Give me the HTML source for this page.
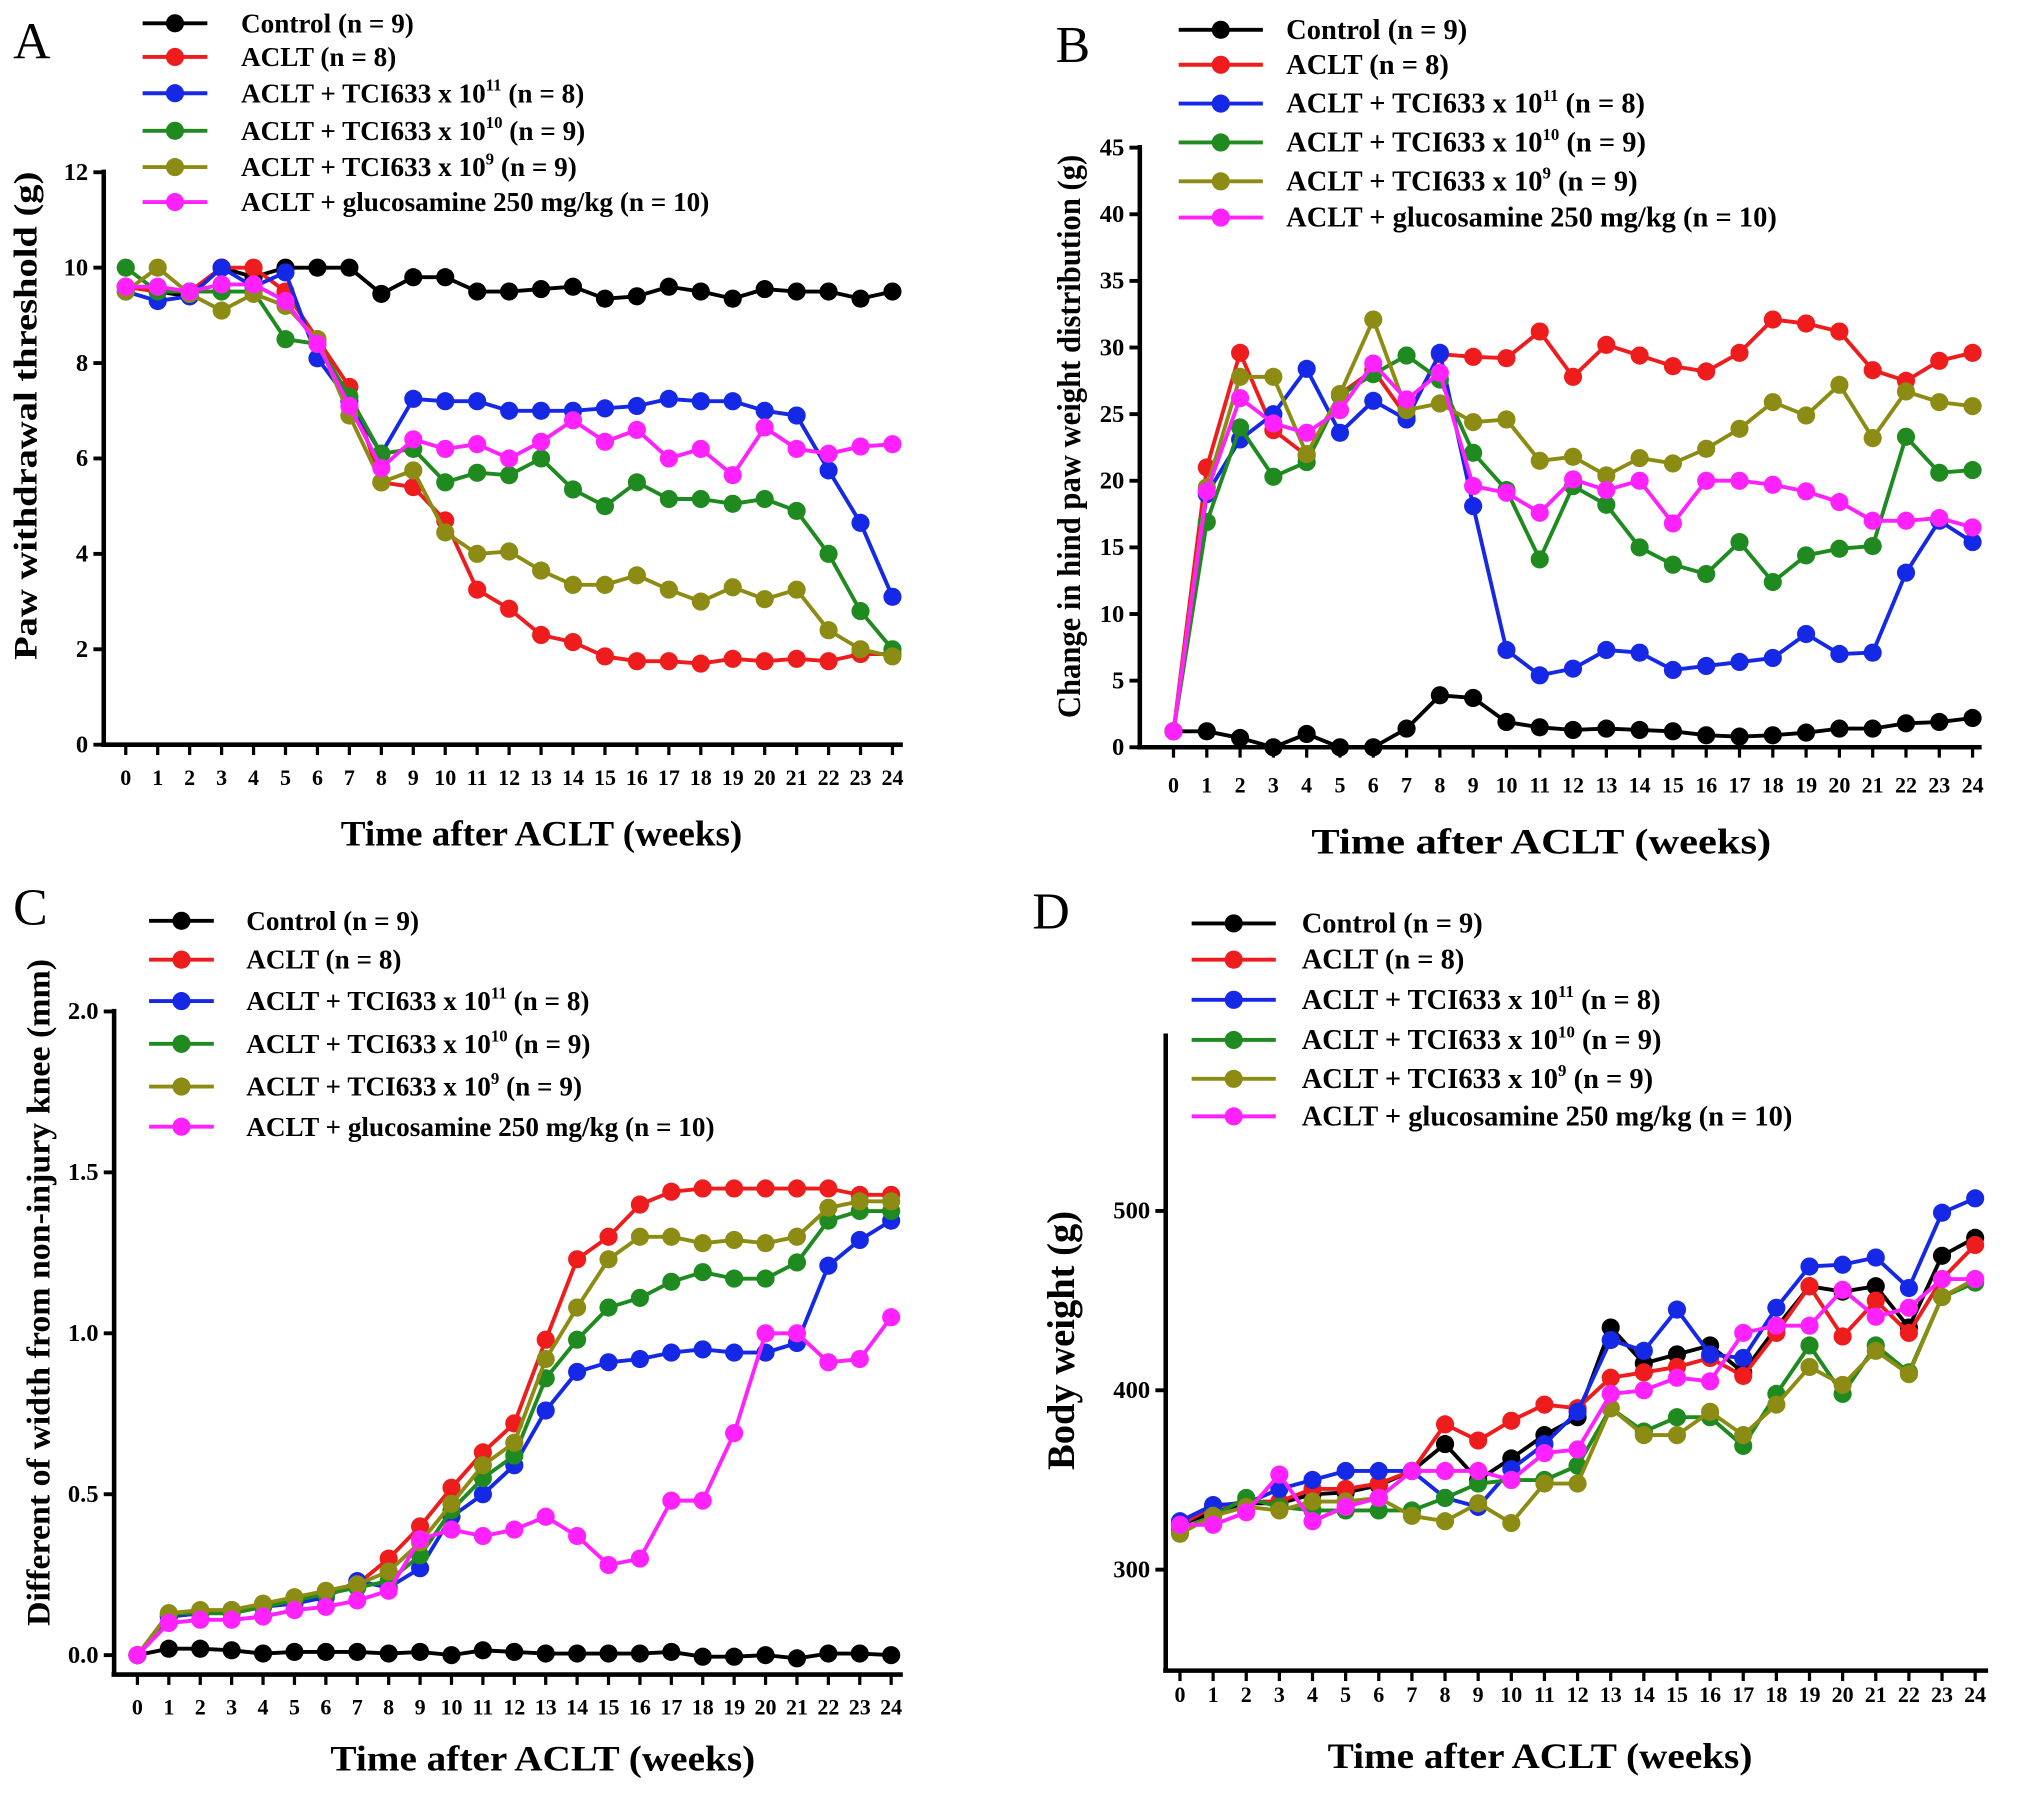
<!DOCTYPE html>
<html><head><meta charset="utf-8">
<style>
html,body{margin:0;padding:0;background:#fff;}
svg{display:block;font-family:"Liberation Serif",serif;}
</style></head>
<body>
<svg id="fig" width="2031" height="1795" viewBox="0 0 1568 1386" xmlns="http://www.w3.org/2000/svg"></svg>
<script>
const weeks = [0,1,2,3,4,5,6,7,8,9,10,11,12,13,14,15,16,17,18,19,20,21,22,23,24];
const seriesColors = ["#000000","#ee1c1c","#1428e6","#1f8a1f","#8c8c14","#ff22ff"];
const seriesNames = ["control","aclt","tci-1e11","tci-1e10","tci-1e9","glucosamine"];

// Panel A: paw withdrawal threshold (g)
const aControl = [9.6,9.5,9.4,10,9.8,10,10,10,9.45,9.8,9.8,9.5,9.5,9.55,9.6,9.35,9.4,9.6,9.5,9.35,9.55,9.5,9.5,9.35,9.5];
const aAclt = [9.6,9.5,9.5,10,10,9.5,8.5,7.5,5.5,5.4,4.7,3.25,2.85,2.3,2.15,1.85,1.75,1.75,1.7,1.8,1.75,1.8,1.75,1.9,1.9];
const aTci11 = [9.5,9.3,9.4,10,9.6,9.9,8.1,7.2,6.1,7.25,7.2,7.2,7.0,7.0,7.0,7.05,7.1,7.25,7.2,7.2,7.0,6.9,5.75,4.65,3.1];
const aTci10 = [10,9.5,9.5,9.5,9.5,8.5,8.4,7.3,6.1,6.2,5.5,5.7,5.65,6.0,5.35,5.0,5.5,5.15,5.15,5.05,5.15,4.9,4.0,2.8,2.0];
const aTci9 = [9.5,10,9.45,9.1,9.45,9.2,8.5,6.9,5.5,5.75,4.45,4.0,4.05,3.65,3.35,3.35,3.55,3.25,3.0,3.3,3.05,3.25,2.4,2.0,1.85];
const aGluc = [9.6,9.6,9.5,9.65,9.65,9.3,8.4,7.1,5.8,6.4,6.2,6.3,6.0,6.35,6.8,6.35,6.6,6.0,6.2,5.65,6.65,6.2,6.1,6.25,6.3];
const aTicks = [0,2,4,6,8,10,12];

// Panel B: change in hind paw weight distribution (g)
const bControl = [1.2,1.2,0.7,0,1.0,0,0,1.4,3.9,3.7,1.9,1.5,1.3,1.4,1.3,1.2,0.9,0.8,0.9,1.1,1.4,1.4,1.8,1.9,2.2];
const bAclt = [1.2,21,29.6,23.8,21.9,26.5,28.3,24.8,29.5,29.3,29.2,31.2,27.8,30.2,29.4,28.6,28.2,29.6,32.1,31.8,31.2,28.3,27.5,29,29.6];
const bTci11 = [1.2,19,23.1,25,28.4,23.6,26,24.6,29.6,18.1,7.3,5.4,5.9,7.3,7.1,5.8,6.1,6.4,6.7,8.5,7.0,7.1,13.1,17,15.4];
const bTci10 = [1.2,16.9,24,20.3,21.4,26.4,28,29.4,27.6,22.1,19.3,14.1,19.6,18.2,15,13.7,13,15.4,12.4,14.4,14.9,15.1,23.3,20.6,20.8];
const bTci9 = [1.2,19.5,27.8,27.8,22,26.5,32.1,25.3,25.8,24.4,24.6,21.5,21.8,20.4,21.7,21.3,22.4,23.9,25.9,24.9,27.2,23.2,26.7,25.9,25.6];
const bGluc = [1.2,19.2,26.2,24.3,23.6,25.3,28.8,26.1,28.1,19.6,19.1,17.6,20.1,19.3,20.0,16.8,20,20,19.7,19.2,18.4,17.0,17.0,17.2,16.5];
const bTicks = [0,5,10,15,20,25,30,35,40,45];

// Panel C: width difference (mm)
const cControl = [0,0.02,0.02,0.015,0.005,0.01,0.01,0.01,0.005,0.01,0,0.015,0.01,0.005,0.005,0.005,0.005,0.01,-0.005,-0.005,0,-0.01,0.005,0.005,0];
const cAclt = [0,0.12,0.13,0.14,0.15,0.17,0.19,0.22,0.3,0.4,0.52,0.63,0.72,0.98,1.23,1.3,1.4,1.44,1.45,1.45,1.45,1.45,1.45,1.43,1.43];
const cTci11 = [0,0.12,0.13,0.14,0.15,0.16,0.18,0.23,0.21,0.27,0.43,0.5,0.59,0.76,0.88,0.91,0.92,0.94,0.95,0.94,0.94,0.97,1.21,1.29,1.35];
const cTci10 = [0,0.13,0.13,0.13,0.15,0.17,0.19,0.21,0.23,0.31,0.45,0.55,0.62,0.86,0.98,1.08,1.11,1.16,1.19,1.17,1.17,1.22,1.35,1.38,1.38];
const cTci9 = [0,0.13,0.14,0.14,0.16,0.18,0.2,0.22,0.26,0.35,0.47,0.59,0.66,0.92,1.08,1.23,1.3,1.3,1.28,1.29,1.28,1.3,1.39,1.41,1.41];
const cGluc = [0,0.1,0.11,0.11,0.12,0.14,0.15,0.17,0.2,0.36,0.39,0.37,0.39,0.43,0.37,0.28,0.3,0.48,0.48,0.69,1.0,1.0,0.91,0.92,1.05];
const cTicks = [0,0.5,1.0,1.5,2.0];
const cTickLabels = ["0.0","0.5","1.0","1.5","2.0"];

// Panel D: body weight (g)
const dControl = [325,332,337,337,342,343,347,355,370,350,362,375,385,435,415,420,425,410,435,458,455,458,435,475,485];
const dAclt = [325,335,338,338,345,345,348,355,381,372,383,392,390,407,410,413,418,408,432,458,430,450,432,462,481];
const dTci11 = [327,336,337,345,350,355,355,355,340,335,356,370,388,428,422,445,420,418,446,469,470,474,457,499,507];
const dTci10 = [322,330,340,335,333,333,333,333,340,348,350,350,358,390,377,385,385,369,398,425,398,425,410,452,460];
const dTci9 = [320,330,335,333,338,338,340,330,327,337,326,348,348,390,375,375,388,375,392,413,403,422,409,452,462];
const dGluc = [325,325,332,353,327,335,340,355,355,355,350,365,367,398,400,407,405,432,436,436,456,441,446,462,462];
const dTicks = [300,400,500];

const NS="http://www.w3.org/2000/svg";
const svg=document.getElementById('fig');
function el(tag,attrs,parent){const e=document.createElementNS(NS,tag);for(const k in attrs)e.setAttribute(k,attrs[k]);(parent||svg).appendChild(e);return e;}

const legendLabels=[
 ["Control  (n = 9)"],["ACLT (n = 8)"],
 ["ACLT + TCI633 x 10","11"," (n = 8)"],["ACLT + TCI633 x 10","10"," (n = 9)"],
 ["ACLT + TCI633 x 10","9"," (n = 9)"],["ACLT + glucosamine 250 mg/kg (n = 10)"]];

const panels=[
 {id:"a",letter:"A",lx:10,ly:45,series:[aControl,aAclt,aTci11,aTci10,aTci9,aGluc],ticks:aTicks,tickLabels:aTicks.map(String),
  x0:97,x24:689,vmin:0,py0:575,vmax:12,py1:133,axisX:80,axisTop:133,axisBottom:575,axisRight:697,tickLabelY:606,
  ylabel:"Paw withdrawal threshold (g)",ylx:28,yly:321,ylen:377,xtitleX:418,xtitleY:653,xlen:310,
  legX:110,legLine:50,legTextX:186,legRows:[18,44,72,101,129,156],legFont:21},
 {id:"b",letter:"B",lx:815,ly:48,series:[bControl,bAclt,bTci11,bTci10,bTci9,bGluc],ticks:bTicks,tickLabels:bTicks.map(String),
  x0:906,x24:1523,vmin:0,py0:577,vmax:45,py1:114,axisX:880,axisTop:114,axisBottom:577,axisRight:1530,tickLabelY:612,
  ylabel:"Change in hind paw weight distribution (g)",ylx:834,yly:337,ylen:435,xtitleX:1190,xtitleY:659,xlen:355,
  legX:910,legLine:65,legTextX:993,legRows:[23,50,80,110,140,168],legFont:22},
 {id:"c",letter:"C",lx:10,ly:714,series:[cControl,cAclt,cTci11,cTci10,cTci9,cGluc],ticks:cTicks,tickLabels:cTickLabels,
  x0:106,x24:688,vmin:0,py0:1278,vmax:2,py1:781,axisX:88,axisTop:781,axisBottom:1293,axisRight:697,tickLabelY:1324,
  ylabel:"Different of width from non-injury knee (mm)",ylx:38,yly:998,ylen:515,xtitleX:419,xtitleY:1367,xlen:328,
  legX:115,legLine:50,legTextX:190,legRows:[711,741,773,806,839,870],legFont:21},
 {id:"d",letter:"D",lx:797,ly:717,series:[dControl,dAclt,dTci11,dTci10,dTci9,dGluc],ticks:dTicks,tickLabels:dTicks.map(String),
  x0:911,x24:1525,vmin:300,py0:1212,vmax:500,py1:935,axisX:900,axisTop:800,axisBottom:1290,axisRight:1535,tickLabelY:1314,
  ylabel:"Body weight (g)",ylx:829,yly:1035,ylen:200,xtitleX:1189,xtitleY:1365,xlen:328,
  legX:920,legLine:65,legTextX:1005,legRows:[713,741,772,803,833,862],legFont:22}
];

panels.forEach(p=>{
  const g=el('g',{});
  
  
  const xs=w=>p.x0+(p.x24-p.x0)*w/24;
  const ys=v=>p.py0+(p.py1-p.py0)*(v-p.vmin)/(p.vmax-p.vmin);
  const L=el('text',{x:p.lx,y:p.ly,'font-size':40},g);L.textContent=p.letter;
  
  
  const ya=el('line',{x1:p.axisX,y1:p.axisTop-2,x2:p.axisX,y2:p.axisBottom,stroke:'#000','stroke-width':3.5},g);
  
  
  const xa=el('line',{x1:p.axisX-2,y1:p.axisBottom,x2:p.axisRight,y2:p.axisBottom,stroke:'#000','stroke-width':3.5},g);
  
  
  p.ticks.forEach((t,i)=>{
    const y=ys(t);
    el('line',{x1:p.axisX-8,y1:y,x2:p.axisX,y2:y,stroke:'#000','stroke-width':3},g);
    const tx=el('text',{x:p.axisX-12,y:y+6,'font-size':19,'font-weight':'bold','text-anchor':'end'},g);
    tx.textContent=p.tickLabels[i];
    
    
  });
  weeks.forEach(w=>{
    const x=xs(w);
    el('line',{x1:x,y1:p.axisBottom,x2:x,y2:p.axisBottom+8,stroke:'#000','stroke-width':2.5},g);
    const tx=el('text',{x:x,y:p.tickLabelY,'font-size':17,'font-weight':'bold','text-anchor':'middle'},g);
    tx.textContent=String(w);
    
    
  });
  const xt=el('text',{x:p.xtitleX,y:p.xtitleY,'font-size':28,'font-weight':'bold','text-anchor':'middle',textLength:p.xlen,lengthAdjust:'spacingAndGlyphs'},g);
  xt.textContent="Time after ACLT (weeks)";
  
  
  const yt=el('text',{x:p.ylx,y:p.yly,'font-size':p.id==='d'?30:25,'font-weight':'bold','text-anchor':'middle',textLength:p.ylen,lengthAdjust:'spacingAndGlyphs',transform:`rotate(-90 ${p.ylx} ${p.yly})`},g);
  yt.textContent=p.ylabel;
  
  
  p.series.forEach((vals,si)=>{
    const sg=el('g',{},g);
    
    
    const pts=vals.map((v,i)=>xs(weeks[i]).toFixed(1)+','+ys(v).toFixed(1)).join(' ');
    const pl=el('polyline',{points:pts,fill:'none',stroke:seriesColors[si],'stroke-width':3,'stroke-linejoin':'round'},sg);
    
    
    vals.forEach((v,i)=>{
      const c=el('circle',{cx:xs(weeks[i]),cy:ys(v),r:7,fill:seriesColors[si]},sg);
      
      
    });
  });
  const lg=el('g',{},g);
  
  
  legendLabels.forEach((lab,i)=>{
    const y=p.legRows[i];
    const eg=el('g',{},lg);
    
    
    el('line',{x1:p.legX,y1:y,x2:p.legX+p.legLine,y2:y,stroke:seriesColors[i],'stroke-width':3},eg);
    el('circle',{cx:p.legX+p.legLine/2,cy:y,r:7,fill:seriesColors[i]},eg);
    const t=el('text',{x:p.legTextX,y:y+7,'font-size':p.legFont,'font-weight':'bold'},eg);
    let lbl=lab[0];
    if(p.id==='d'&&i===0) lbl="Control (n = 9)";
    const s1=el('tspan',{},t);s1.textContent=lbl;
    if(lab.length>1){
      const s2=el('tspan',{'font-size':13,dy:-9},t);s2.textContent=lab[1];
      const s3=el('tspan',{dy:9},t);s3.textContent=lab[2];
    }
  });
});
</script>
</body></html>
